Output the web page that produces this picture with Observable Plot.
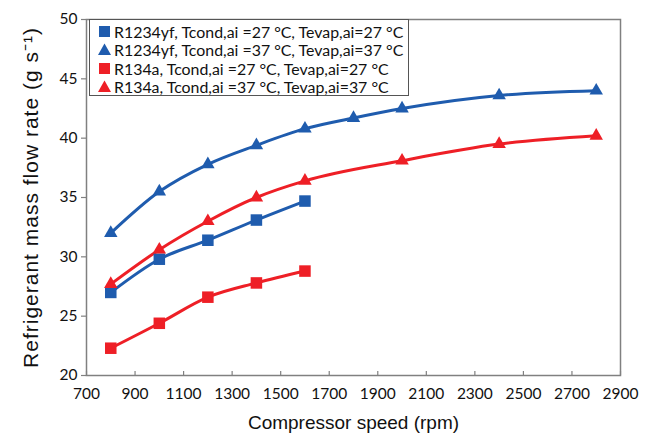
<!DOCTYPE html>
<html><head><meta charset="utf-8">
<script src="https://cdn.jsdelivr.net/npm/d3@7"></script>
<script src="https://cdn.jsdelivr.net/npm/@observablehq/plot@0.6"></script>
<style>
body{margin:0;background:#fff;}
#wrap{position:relative;width:650px;height:439px;}
#legend{position:absolute;left:89px;top:19px;width:320px;height:77px;border:1.5px solid #555;background:#fff;box-sizing:border-box;font-family:Lato,"Open Sans",sans-serif;font-size:15.9px;color:#111;padding-top:2px;}
.row{display:flex;align-items:center;height:18.5px;padding-left:8px;white-space:nowrap;}
.row svg{margin-right:3px;flex:none;}
.ytitle text{letter-spacing:1px;}
</style></head>
<body><div id="wrap"></div>
<script>
const speeds1234_27 = [800, 1000, 1200, 1400, 1600];
const flow1234_27 = [27.0, 29.8, 31.4, 33.1, 34.7];
const speeds1234_37 = [800, 1000, 1200, 1400, 1600, 1800, 2000, 2400, 2800];
const flow1234_37 = [32.0, 35.5, 37.8, 39.4, 40.8, 41.7, 42.5, 43.6, 44.0];
const speeds134_27 = [800, 1000, 1200, 1400, 1600];
const flow134_27 = [22.3, 24.4, 26.6, 27.8, 28.8];
const speeds134_37 = [800, 1000, 1200, 1400, 1600, 2000, 2400, 2800];
const flow134_37 = [27.7, 30.6, 33.0, 35.0, 36.4, 38.1, 39.5, 40.2];
const seriesNames = [
  "R1234yf, Tcond,ai =27 °C, Tevap,ai=27 °C",
  "R1234yf, Tcond,ai =37 °C, Tevap,ai=37 °C",
  "R134a, Tcond,ai =27 °C, Tevap,ai=27 °C",
  "R134a, Tcond,ai =37 °C, Tevap,ai=37 °C"
];
const xTicks = d3.range(700, 2901, 200);
const yTicks = d3.range(20, 51, 5);

const BLUE = "#1f5cae", RED = "#ee1f26";
const defs = [
  {s: speeds1234_27, v: flow1234_27, color: BLUE, sym: "square"},
  {s: speeds1234_37, v: flow1234_37, color: BLUE, sym: "triangle"},
  {s: speeds134_27, v: flow134_27, color: RED, sym: "square"},
  {s: speeds134_37, v: flow134_37, color: RED, sym: "triangle"}
];
const rows = defs.flatMap((d, k) => d.s.map((x, i) => ({series: seriesNames[k], x, y: d.v[i], color: d.color, sym: d.sym})));

const marks = [
  Plot.frame({stroke: "#808080", strokeWidth: 1.5}),
  Plot.axisX({ticks: xTicks, tickSize: 4, dy: -4, tickFormat: () => "", label: null, stroke: "#808080", strokeWidth: 1.2}),
  Plot.axisX({ticks: xTicks, tickSize: 0, tickPadding: 12, tickFormat: d => String(d), fontSize: 15.5, fontFamily: "Lato", label: null}),
  Plot.axisY({ticks: yTicks, tickSize: 5, tickPadding: 4, fontSize: 15.5, fontFamily: "Lato", label: null, stroke: "#808080", strokeWidth: 1.2}),
];
defs.forEach((d, k) => {
  const data = rows.filter(r => r.series === seriesNames[k]);
  marks.push(Plot.line(data, {x: "x", y: "y", stroke: d.color, strokeWidth: 3, curve: "monotone-x"}));
});
defs.forEach((d, k) => {
  const data = rows.filter(r => r.series === seriesNames[k]);
  marks.push(Plot.dot(data, {x: "x", y: "y", fill: d.color, symbol: d.sym, r: d.sym === "square" ? 6.5 : 5, stroke: null}));
});
marks.push(Plot.text(["Refrigerant mass flow rate (g s⁻¹)"], {frameAnchor: "left", textAnchor: "middle", rotate: -90, dx: -55, fontSize: 21, fontFamily: "Liberation Sans", fill: "#111", className: "ytitle"}));
marks.push(Plot.text(["Compressor speed (rpm)"], {frameAnchor: "bottom", dy: 53, fontSize: 19, fontFamily: "Liberation Sans", fill: "#111"}));

const chart = Plot.plot({
  width: 650, height: 439,
  marginLeft: 86, marginRight: 30, marginTop: 19, marginBottom: 64,
  x: {domain: [700, 2900]},
  y: {domain: [20, 50]},
  style: {background: "#fff", color: "#111"},
  marks
});
const wrap = document.getElementById("wrap");
wrap.appendChild(chart);

const legend = document.createElement("div");
legend.id = "legend";
defs.forEach((d, k) => {
  const row = document.createElement("div");
  row.className = "row";
  const shape = d.sym === "square"
    ? `<rect x="1" y="1" width="11" height="11" fill="${d.color}"/>`
    : `<polygon points="6.5,0.5 13,12 0,12" fill="${d.color}"/>`;
  row.innerHTML = `<svg width="13" height="13">${shape}</svg><span></span>`;
  row.querySelector("span").textContent = seriesNames[k];
  legend.appendChild(row);
});
wrap.appendChild(legend);
</script></body></html>
